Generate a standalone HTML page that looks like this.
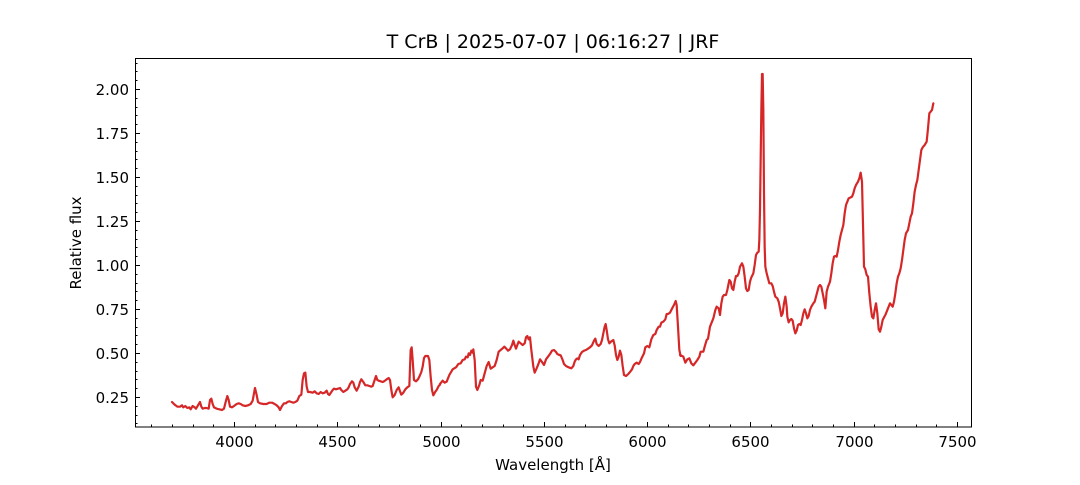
<!DOCTYPE html>
<html><head><meta charset="utf-8"><style>
html,body{margin:0;padding:0;background:#fff;}
svg text{font-family:"DejaVu Sans","Liberation Sans",sans-serif;fill:#000;}
</style></head><body>
<svg id="s" width="1080" height="480" viewBox="0 0 1080 480" xmlns="http://www.w3.org/2000/svg">
<rect width="1080" height="480" fill="#fff"/>
<text x="553" y="48" font-size="19" text-anchor="middle">T CrB | 2025-07-07 | 06:16:27 | JRF</text>
<g id="ticks" stroke="#000" stroke-width="1"></g>
<g id="labels" font-size="15"></g>
<text x="553" y="470" font-size="15" text-anchor="middle">Wavelength [Å]</text>
<text transform="translate(81,243) rotate(-90)" font-size="15" text-anchor="middle">Relative flux</text>
<g fill="none" stroke="#d62728" stroke-width="6.6" stroke-linejoin="round" stroke-linecap="round">
<polyline transform="translate(160,280) scale(0.33333)" points="36,366 44,374 52,380 60,380 66,376 70,382 76,378 82,384 88,382 92,388 98,378 104,382 108,386 114,376 120,366 124,380 128,386 134,384 140,384 146,386 150,360 154,356 158,372 162,382 170,386 178,388 186,390 192,386 198,362 202,348 206,360 210,380 216,382 222,378 230,372 236,370 242,372 248,376 256,378 264,376 272,372 278,362 282,340 285,324 290,345 294,366 300,370 310,372 320,372 328,368 336,368 344,372 350,376 356,382 360,390 366,378 372,370 378,370 382,366 388,364 394,366 400,368 406,366 412,362 418,348 424,344 428,300 432,280 436,278 440,320 444,336 450,336 458,338 464,334 470,340 476,342 482,336 488,340 494,338 500,332 504,342 508,345 514,336 518,330 522,326 528,328 534,326 540,324 544,330 550,336 556,332 562,328 566,322 570,312 576,304 580,308 584,322 590,332 596,320 600,306 604,298 610,306 616,316 622,316 628,318 634,320 638,318 644,300 648,288 652,300 656,302 662,304 668,306 672,304 680,298 686,294 690,300 694,330 698,352 704,345 710,330 716,322 720,334 724,344 730,338 736,328 742,322 748,318 752,210 755,202 758,240 762,300 768,304 774,298 778,290 784,276 788,260 792,234 796,228 804,228 808,240 812,290 816,330 820,346 826,335 830,330 836,318 840,314"/>
<polyline transform="translate(440,260) scale(0.33333)" points="0,372 8,362 14,368 20,365 28,345 38,328 48,322 55,312 62,310 68,300 74,298 78,290 83,292 86,280 90,285 94,272 98,278 100,268 104,300 108,380 112,390 118,375 122,360 128,362 134,340 140,318 146,306 152,326 158,322 164,318 170,300 176,275 182,270 188,265 193,260 198,265 204,272 210,268 216,255 220,242 224,255 228,266 232,255 236,245 242,250 248,255 254,250 258,232 262,228 266,238 270,232 274,270 280,320 284,338 290,325 296,310 300,298 306,306 312,315 318,298 324,290 330,282 336,272 342,270 348,276 352,282 358,285 362,286 368,300 372,312 378,318 386,322 394,325 400,318 404,305 408,298 412,295 416,298 420,285 426,276 432,272 438,270 444,266 450,262 456,256 462,242 466,236 470,252 476,258 482,252 486,240 490,220 494,200 497,192 500,210 504,238 508,250 514,244 520,240 524,256 528,285 532,300 536,290 540,272 544,285 548,318 552,345 558,348 564,343 570,336 576,328 580,318 584,312 590,308 596,312 600,306 606,292 612,280 616,262 622,258 628,262 634,238 640,225 646,222 650,210 656,200 660,200 664,188 670,185 676,178 680,162 684,162 690,158 694,150 698,142 702,135 707,123 710,135 714,200 718,270 722,288"/>
<polyline transform="translate(680,60) scale(0.33333)" points="0,885 10,890 16,908 22,898 28,895 34,910 40,916 46,908 52,900 58,890 62,875 70,875 74,860 80,840 84,836 90,800 96,785 100,775 106,750 110,740 116,745 120,765 124,730 128,710 132,705 138,705 142,690 148,660 152,665 156,685 160,690 164,665 168,648 172,648 176,640 180,620 186,610 190,620 194,650 198,685 202,693 206,690 210,665 214,652 220,640 224,615 228,585 232,578 236,575 238,540 240,450 242,300 244,150 246,42 248,42 250,150 252,400 254,560 256,620 260,640 264,655 268,670 274,670 278,678 282,695 286,710 292,715 296,725 300,745 304,768 308,760 312,730 316,710 320,740 322,770 326,787 330,780 334,777 338,782 342,805 346,820 350,812 354,795 358,792 362,795 366,780 370,760 374,748 378,760 382,775 386,768 390,750 394,740 400,730 404,725 408,710 412,695 416,680 420,675 424,680 428,700 432,720 436,745 440,695 444,680 450,665 454,640 458,610 462,590 466,588 470,590 474,570 478,545 482,525 486,510 490,495 494,460 498,435 502,425 506,415 512,412 516,410 520,400 524,385 528,375 534,365 538,355 542,338 546,365 548,450 552,620 556,628 560,645 564,650 568,700 572,740 576,770 580,775 584,750 588,730 592,760 596,808 600,815 604,800 608,780 612,772 616,765 620,755 624,745 630,730 634,735 638,740 642,725 646,700 650,670 654,650 658,640 662,625 666,600 670,570 674,540 678,520 684,510 688,490 692,470 696,460 700,430 704,395 708,375 712,360 716,330 720,300 724,270 728,262 734,255 740,245 744,205 748,160 752,155 756,150 760,130"/>
</g>
<rect x="135.5" y="58.5" width="836" height="368.5" fill="none" stroke="#000" stroke-width="1"/>
</svg>
<script>
(function(){
var NS="http://www.w3.org/2000/svg",t=document.getElementById("ticks"),l=document.getElementById("labels");
function ln(x1,y1,x2,y2){var e=document.createElementNS(NS,"line");e.setAttribute("x1",x1);e.setAttribute("y1",y1);e.setAttribute("x2",x2);e.setAttribute("y2",y2);t.appendChild(e);}
function tx(x,y,s,a){var e=document.createElementNS(NS,"text");e.setAttribute("x",x);e.setAttribute("y",y);e.setAttribute("text-anchor",a);e.textContent=s;l.appendChild(e);}
function X(w){return 234+(w-4000)*0.206571;}
function Y(v){return 397-(v-0.25)*176;}
for(var w=3600;w<=7500;w+=100){var x=Math.round(X(w))+0.5,maj=(w%500==0);ln(x,427,x,427-(maj?5:2.5));if(maj)tx(x,447,String(w),"middle");}
for(var i=2;i<=43;i++){var v=i*0.05,y=Math.round(Y(v))+0.5,maj=(i%5==0);ln(135,y,135+(maj?5:2.5),y);if(maj)tx(129,y+5.5,v.toFixed(2),"end");}
})();
</script>
</body></html>
